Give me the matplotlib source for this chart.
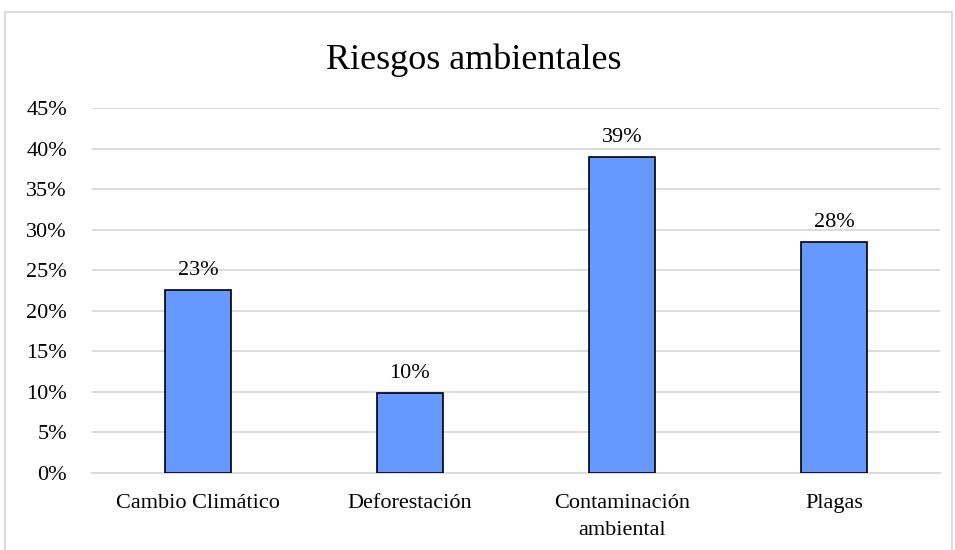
import numpy as np
import matplotlib.pyplot as plt
from matplotlib.patches import Rectangle

plt.rcParams['font.family'] = ['Liberation Serif', 'DejaVu Serif']

categorias = ["Cambio Climático", "Deforestación", "Contaminación\nambiental", "Plagas"]
valores = [0.226, 0.099, 0.39, 0.285]
etiquetas = ["23%", "10%", "39%", "28%"]
yticks = [0, 0.05, 0.10, 0.15, 0.20, 0.25, 0.30, 0.35, 0.40, 0.45]

fig = plt.figure(figsize=(9.55, 5.5), dpi=100)
ax = fig.add_axes([0.0963, 0.14, 0.888, 0.6636])

# marco exterior gris
fig.patches.append(Rectangle((5/955, -0.1), 947/955, 1.1 - 12/550,
                             transform=fig.transFigure, fill=False,
                             edgecolor='#d9d9d9', linewidth=1.3))

x = np.arange(len(categorias))
bars = ax.bar(x, valores, width=0.31, color='#6699ff', edgecolor='black',
              linewidth=1.2, zorder=3)

for b, t in zip(bars, etiquetas):
    ax.annotate(t, (b.get_x() + b.get_width()/2, b.get_height()),
                xytext=(0, 7), textcoords='offset points',
                ha='center', va='bottom', fontsize=16)

ax.set_xlim(-0.5, len(categorias) - 0.5)
ax.set_ylim(0, 0.45)
ax.set_yticks(yticks)
ax.set_yticklabels([f"{int(round(v*100))}%" for v in yticks])
ax.set_xticks(x)
ax.set_xticklabels(categorias, linespacing=1.55)
ax.tick_params(axis='y', length=0, pad=18, labelsize=16)
ax.tick_params(axis='x', length=0, pad=15, labelsize=16)

ax.grid(axis='y', color='#d9d9d9', linewidth=1.3, zorder=0)
for s in ['top', 'right', 'left']:
    ax.spines[s].set_visible(False)
ax.spines['bottom'].set_color('#d9d9d9')
ax.spines['bottom'].set_linewidth(1.3)

fig.text(0.496, 0.89, "Riesgos ambientales", ha='center', va='center', fontsize=26)

fig.savefig('out.png', dpi=100)
